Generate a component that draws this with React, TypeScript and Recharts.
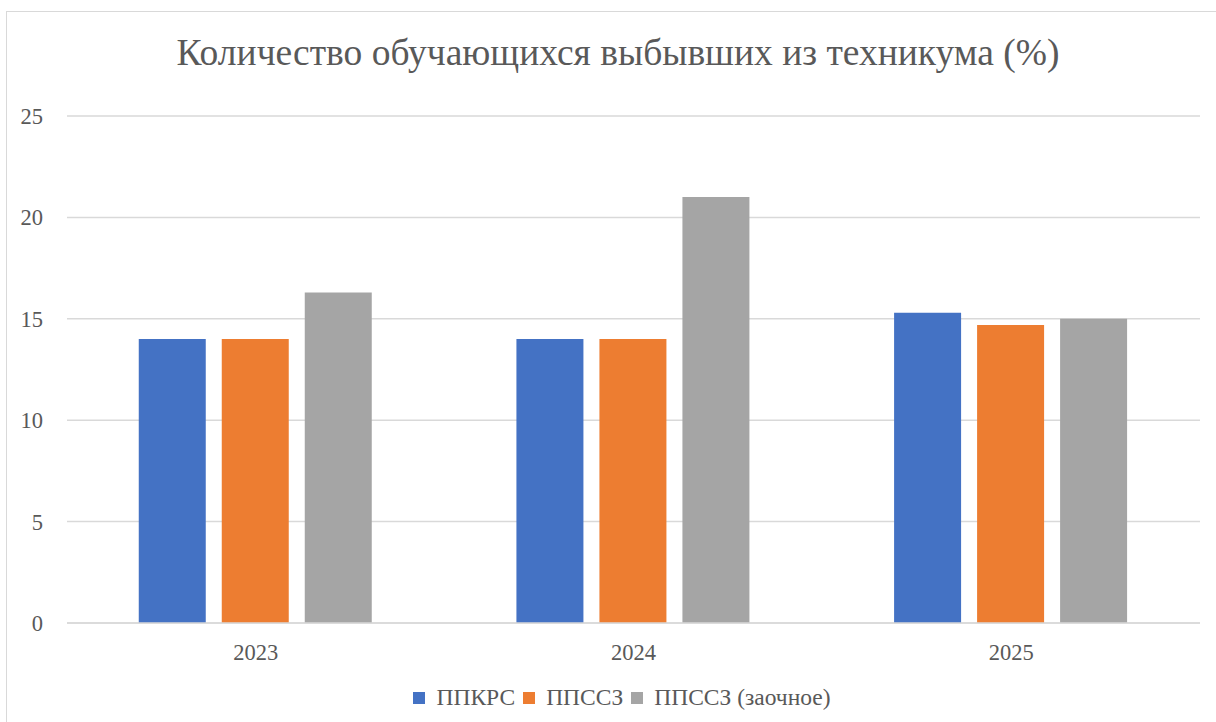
import { BarChart, Bar, XAxis, YAxis, CartesianGrid, Legend } from "recharts";

const years = ["2023", "2024", "2025"];
const ppkrs = [14.0, 14.0, 15.3];
const ppssz = [14.0, 14.0, 14.7];
const ppsszZaoch = [16.3, 21.0, 15.0];
const yTicks = [0, 5, 10, 15, 20, 25];

const data = years.map((year, i) => ({
  year,
  ppkrs: ppkrs[i],
  ppssz: ppssz[i],
  zaoch: ppsszZaoch[i],
}));

const font = "'Liberation Serif', 'Times New Roman', serif";
const tick = { fill: "#595959", fontSize: 22.5, fontFamily: font };

function LegendContent(props: any) {
  const items = props.payload || [];
  return (
    <div style={{ display: "flex", justifyContent: "center", alignItems: "center" }}>
      {items.map((entry: any, i: number) => (
        <div
          key={entry.value}
          style={{ display: "flex", alignItems: "center", marginRight: i < items.length - 1 ? 8 : 0 }}
        >
          <span
            style={{ width: 12, height: 12, background: entry.color, display: "inline-block", marginRight: 11 }}
          />
          <span style={{ color: "#595959", fontFamily: font, fontSize: 23.5 }}>{entry.value}</span>
        </div>
      ))}
    </div>
  );
}

export default function App() {
  return (
    <div
      style={{
        position: "absolute",
        left: 0,
        top: 0,
        width: 1216,
        height: 722,
        overflow: "hidden",
        background: "#fff",
        fontFamily: font,
      }}
    >
      <div
        style={{
          position: "absolute",
          left: 6,
          top: 11,
          width: 1240,
          height: 740,
          border: "1px solid #d9d9d9",
        }}
      />
      <div
        style={{
          position: "absolute",
          top: 31,
          left: 0,
          width: 1236,
          textAlign: "center",
          fontSize: 37.5,
          color: "#595959",
        }}
      >
        Количество обучающихся выбывших из техникума (%)
      </div>
      <div style={{ position: "absolute", left: 0, top: 0 }}>
        <BarChart
          width={1216}
          height={722}
          data={data}
          margin={{ top: 116, right: 16, left: 0, bottom: 59 }}
          barGap={16}
          barCategoryGap="19%"
        >
          <CartesianGrid vertical={false} stroke="#d9d9d9" strokeWidth={1.5} />
          <XAxis
            dataKey="year"
            tickLine={false}
            axisLine={{ stroke: "#d9d9d9", strokeWidth: 1.5 }}
            tick={tick}
            tickMargin={15}
            height={40}
          />
          <YAxis
            domain={[0, 25]}
            ticks={yTicks}
            tickLine={false}
            axisLine={false}
            tick={tick}
            tickSize={6}
            tickMargin={18}
            width={67}
          />
          <Legend
            layout="horizontal"
            verticalAlign="middle"
            align="center"
            content={<LegendContent />}
            wrapperStyle={{ top: 684, left: 0, width: 1244 }}
          />
          <Bar dataKey="ppkrs" name="ППКРС" fill="#4472c4" isAnimationActive={false} />
          <Bar dataKey="ppssz" name="ППССЗ" fill="#ed7d31" isAnimationActive={false} />
          <Bar dataKey="zaoch" name="ППССЗ (заочное)" fill="#a5a5a5" isAnimationActive={false} />
        </BarChart>
      </div>
    </div>
  );
}
